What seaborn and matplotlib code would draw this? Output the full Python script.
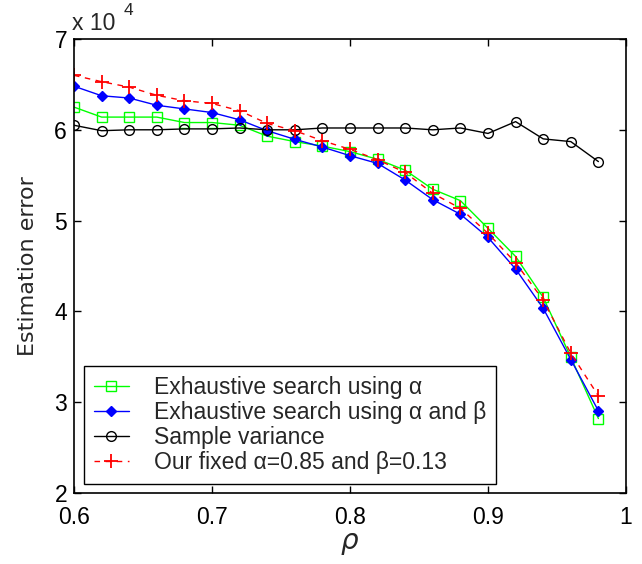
import matplotlib
matplotlib.use("Agg")
import matplotlib.pyplot as plt
import seaborn as sns
import numpy as np
import pandas as pd
from matplotlib.ticker import FuncFormatter, MultipleLocator

rho = [0.60, 0.62, 0.64, 0.66, 0.68, 0.70, 0.72, 0.74, 0.76, 0.78,
       0.80, 0.82, 0.84, 0.86, 0.88, 0.90, 0.92, 0.94, 0.96, 0.98]

exh_alpha = [62500, 61400, 61400, 61400, 60800, 60800, 60500, 59300, 58700, 58200,
             57600, 56750, 55550, 53450, 52200, 49150, 46050, 41550, 34950, 28200]
exh_alpha_beta = [64800, 63750, 63500, 62700, 62300, 61900, 61100, 59900, 58950, 58100,
                  57150, 56300, 54470, 52300, 50700, 48150, 44670, 40340, 34700, 29050]
sample_var = [60500, 59900, 60000, 60000, 60100, 60100, 60200, 60000, 60000, 60200,
              60200, 60200, 60200, 60000, 60200, 59600, 60900, 59000, 58700, 56500]
fixed_ab = [66000, 65300, 64700, 63800, 63200, 62900, 62100, 60700, 59900, 58800,
            57850, 56700, 55300, 53000, 51350, 48600, 45360, 41250, 35400, 30700]

labels = ["Exhaustive search using \u03b1",
          "Exhaustive search using \u03b1 and \u03b2",
          "Sample variance",
          "Our fixed \u03b1=0.85 and \u03b2=0.13"]

sns.set_style("ticks")
plt.rcParams['font.family'] = ['Liberation Sans', 'DejaVu Sans']

fig = plt.figure(figsize=(6.42, 5.64), dpi=100)
ax = fig.add_axes([74/642, (564-493)/564, (626-74)/642, (493-39)/564])

series = [
    (exh_alpha, labels[0], dict(color="#00ff00", marker="s", markersize=7,
                                markerfacecolor="none", markeredgecolor="#00ff00",
                                markeredgewidth=1.0, linestyle="-", linewidth=1.0)),
    (exh_alpha_beta, labels[1], dict(color="#0000ff", marker="D", markersize=5,
                                     markerfacecolor="#0000ff", markeredgecolor="#0000ff",
                                     markeredgewidth=1.0, linestyle="-", linewidth=1.0)),
    (sample_var, labels[2], dict(color="black", marker="o", markersize=7,
                                 markerfacecolor="none", markeredgecolor="black",
                                 markeredgewidth=1.0, linestyle="-", linewidth=1.0)),
    (fixed_ab, labels[3], dict(color="#ff0000", marker="+", markersize=10,
                               markerfacecolor="#ff0000", markeredgecolor="#ff0000",
                               markeredgewidth=1.3, linestyle=(0, (4, 4)), linewidth=1.0)),
]

for vals, lab, kw in series:
    df = pd.DataFrame({"rho": rho, "err": vals})
    sns.lineplot(data=df, x="rho", y="err", ax=ax, label=lab, **kw)

ax.set_xlim(0.6, 1.0)
ax.set_ylim(20000, 70000)
ax.xaxis.set_major_locator(MultipleLocator(0.1))
ax.yaxis.set_major_locator(MultipleLocator(10000))
ax.xaxis.set_major_formatter(FuncFormatter(lambda v, p: ("%g" % round(v, 2))))
ax.yaxis.set_major_formatter(FuncFormatter(lambda v, p: "%d" % round(v / 10000)))
ax.tick_params(direction="in", length=5, width=1, top=True, right=True,
               labelsize=16.5, colors="black")
ax.tick_params(axis="x", pad=9)
ax.tick_params(axis="y", pad=5)
for s in ax.spines.values():
    s.set_linewidth(1.2)
    s.set_color("black")
    s.set_visible(True)

ax.set_xlabel(r"$\rho$", fontsize=20, labelpad=2)
ax.set_ylabel("Estimation error", fontsize=16, family="DejaVu Sans", labelpad=12)

fig.text(72/642, 1 - 30/564, "x 10", fontsize=16.5, va="baseline", ha="left")
fig.text(124/642, 1 - 15/564, "4", fontsize=12.5, va="baseline", ha="left")

leg = ax.legend(loc="lower left", fontsize=16.5, frameon=True, fancybox=False,
                edgecolor="black", framealpha=1, labelspacing=0.08,
                handlelength=1.5, handletextpad=1.1, borderpad=0.45,
                borderaxespad=0, bbox_to_anchor=(0.018, 0.02))
leg.get_frame().set_linewidth(1.0)

fig.savefig("out.png", dpi=100)
